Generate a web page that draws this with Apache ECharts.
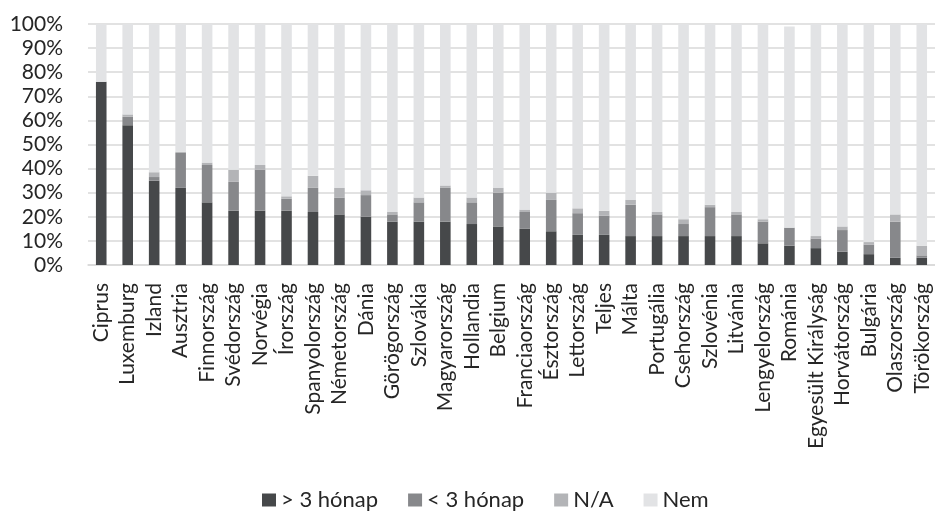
<!DOCTYPE html>
<html>
<head>
<meta charset="utf-8">
<script src="https://cdn.jsdelivr.net/npm/echarts@6/dist/echarts.min.js"></script>
<style>
  html, body { margin: 0; padding: 0; background: #ffffff; }
  #chart { width: 935px; height: 511px; }
</style>
</head>
<body>
<div id="chart"></div>
<script>
// Countries, ordered by the share of "> 3 hónap" answers
const categories = [
  'Ciprus', 'Luxemburg', 'Izland', 'Ausztria', 'Finnország', 'Svédország',
  'Norvégia', 'Írország', 'Spanyolország', 'Németország', 'Dánia',
  'Görögország', 'Szlovákia', 'Magyarország', 'Hollandia', 'Belgium',
  'Franciaország', 'Észtország', 'Lettország', 'Teljes', 'Málta',
  'Portugália', 'Csehország', 'Szlovénia', 'Litvánia', 'Lengyelország',
  'Románia', 'Egyesült Királyság', 'Horvátország', 'Bulgária',
  'Olaszország', 'Törökország'
];

// Shares in percent
const overThreeMonths = [
  76, 58, 35, 32, 26, 22.5, 22.5, 22.5, 22, 21, 20, 18, 18, 18, 17, 16,
  15, 14, 12.5, 12.5, 12, 12, 12, 12, 12, 9, 8, 7, 5.5, 4.5, 3, 3
];
const underThreeMonths = [
  0, 3.5, 1.5, 14.5, 15.5, 12, 17, 5, 10, 7, 9, 3, 8, 14, 9, 14,
  7, 13, 9, 8, 13, 9, 5, 12, 9, 9, 7.5, 4, 9, 4, 15, 1
];
const notAvailable = [
  0, 1, 2, 0.5, 1, 5, 2, 1, 5, 4, 2, 1, 2, 1, 2, 2,
  1, 3, 2, 2, 2, 1, 2, 1, 1, 1, 0, 1, 1.5, 1, 3, 4
];
const noAnswer = [
  24, 37.5, 61.5, 53, 57.5, 60.5, 58.5, 71.5, 63, 68, 69, 78, 72, 67, 72, 68,
  77, 70, 76.5, 77.5, 73, 78, 81, 75, 78, 81, 83.5, 88, 84, 90.5, 79, 92
];

// Y axis tick labels
const yTicks = [0, 10, 20, 30, 40, 50, 60, 70, 80, 90, 100];

const seriesNames = ['> 3 hónap', '< 3 hónap', 'N/A', 'Nem'];
const seriesColors = ['#46484a', '#87888b', '#b3b4b7', '#e2e3e5'];
const seriesData = [overThreeMonths, underThreeMonths, notAvailable, noAnswer];

const font = 'Lato, "Open Sans", sans-serif';
const textColor = '#262626';

const chart = echarts.init(document.getElementById('chart'), null, { renderer: 'canvas' });

chart.setOption({
  animation: false,
  backgroundColor: '#ffffff',
  color: seriesColors,
  grid: { left: 88, right: 0, top: 24, bottom: 246, containLabel: false },
  legend: {
    top: 484,
    left: 257,
    itemWidth: 14,
    itemHeight: 13,
    itemGap: 30,
    icon: 'rect',
    data: seriesNames,
    textStyle: { fontFamily: font, fontSize: 22, color: textColor }
  },
  xAxis: {
    type: 'category',
    data: categories,
    axisTick: { show: false },
    axisLine: { show: true, lineStyle: { color: '#d9d9d9', width: 1.5 } },
    axisLabel: {
      rotate: 90,
      interval: 0,
      margin: 18,
      fontFamily: font,
      fontSize: 21,
      color: textColor
    }
  },
  yAxis: {
    type: 'value',
    min: yTicks[0],
    max: yTicks[yTicks.length - 1],
    interval: yTicks[1] - yTicks[0],
    axisLine: { show: false },
    axisTick: { show: false },
    splitLine: { lineStyle: { color: '#d9d9d9', width: 1.5 } },
    axisLabel: {
      margin: 25,
      fontFamily: font,
      fontSize: 21,
      color: textColor,
      formatter: v => v + '%'
    }
  },
  series: seriesNames.map((name, i) => ({
    name: name,
    type: 'bar',
    stack: 'share',
    barWidth: '40%',
    data: seriesData[i],
    itemStyle: { color: seriesColors[i] }
  }))
});
</script>
</body>
</html>
